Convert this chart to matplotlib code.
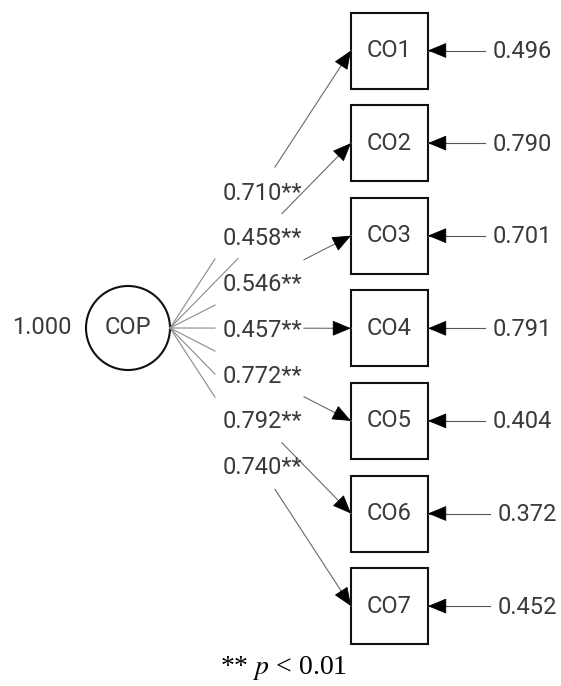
"""
CFA path diagram: COP factor with seven indicators CO1-CO7.
"""

import matplotlib.pyplot as plt
from matplotlib.patches import Circle, Rectangle
import numpy as np

# model values
factor = "COP"
factor_variance = 1.000
items = ["CO1", "CO2", "CO3", "CO4", "CO5", "CO6", "CO7"]
loadings = [0.710, 0.458, 0.546, 0.457, 0.772, 0.792, 0.740]
residuals = [0.496, 0.790, 0.701, 0.791, 0.404, 0.372, 0.452]
footnote_p = 0.01

# layout in pixel units (y goes down)
W, H = 561, 686
box_x0, box_w, box_h = 351, 77, 76
box_y0, box_step = 50.5, 92.6
circ_x, circ_y, circ_r = 128, 328, 42
fan_end_x = [215, 238, 215, 215, 215, 215, 215]
resume_x = [275, 282, 304, 304, 304, 282, 275]
label_x, label_y0, label_step = 223, 193, 45.8
res_line_x = [485, 485, 485, 485, 485, 490, 490]
res_text_x = [493, 493, 493, 493, 493, 498, 498]

FONT = ["Roboto", "DejaVu Sans"]
TXT = "#3a3a3a"
FS = 17


def arrow_head(ax, tip, direction, length=18):
    d = np.asarray(direction, float)
    d = d / np.linalg.norm(d)
    start = np.asarray(tip) - d * length
    ax.annotate(
        "",
        xy=tip,
        xytext=start,
        arrowprops=dict(
            arrowstyle="-|>,head_length=0.8,head_width=0.33",
            color="black",
            lw=0.6,
            shrinkA=0,
            shrinkB=0,
            mutation_scale=15,
        ),
    )


def draw_diagram():
    fig = plt.figure(figsize=(W / 100, H / 100), dpi=100)
    ax = fig.add_axes([0, 0, 1, 1])
    ax.set_xlim(0, W)
    ax.set_ylim(H, 0)
    ax.axis("off")

    # latent factor
    ax.add_patch(Circle((circ_x, circ_y), circ_r, fill=False, ec="#111111", lw=1.5))
    ax.text(circ_x, circ_y, factor, ha="center", va="center", fontsize=FS,
            family=FONT, color=TXT)
    ax.text(42, circ_y, f"{factor_variance:.3f}", ha="center", va="center",
            fontsize=FS, family=FONT, color=TXT)

    origin = np.array([circ_x + circ_r, circ_y])
    for i, (name, lam, res) in enumerate(zip(items, loadings, residuals)):
        cy = box_y0 + i * box_step
        ax.add_patch(Rectangle((box_x0, cy - box_h / 2), box_w, box_h,
                               fill=False, ec="#111111", lw=1.5))
        ax.text(box_x0 + box_w / 2, cy, name, ha="center", va="center",
                fontsize=FS, family=FONT, color=TXT)

        # loading path, broken where the labels sit
        tip = np.array([box_x0, cy])
        d = tip - origin
        slope = d[1] / d[0]
        p1 = np.array([fan_end_x[i], origin[1] + slope * (fan_end_x[i] - origin[0])])
        p2 = np.array([resume_x[i], origin[1] + slope * (resume_x[i] - origin[0])])
        ax.plot([origin[0], p1[0]], [origin[1], p1[1]], color="#8a8a8a", lw=0.8)
        ax.plot([p2[0], tip[0]], [p2[1], tip[1]], color="#6a6a6a", lw=0.8)
        arrow_head(ax, tip, d)

        ax.text(label_x, label_y0 + i * label_step, f"{lam:.3f}**", ha="left",
                va="center", fontsize=FS, family=FONT, color=TXT)

        # residual
        rtip = np.array([box_x0 + box_w, cy])
        ax.plot([res_line_x[i], rtip[0]], [cy, cy], color="#555555", lw=0.8)
        arrow_head(ax, rtip, (-1, 0))
        ax.text(res_text_x[i], cy + 1, f"{res:.3f}", ha="left", va="center",
                fontsize=FS, family=FONT, color=TXT)

    ax.text(284, 668, rf"** $p$ < {footnote_p}", ha="center", va="center",
            fontsize=20, family="Liberation Serif", color="black")

    plt.savefig("out.png", dpi=100)


if __name__ == "__main__":
    plt.rcParams["mathtext.fontset"] = "stix"
    draw_diagram()
